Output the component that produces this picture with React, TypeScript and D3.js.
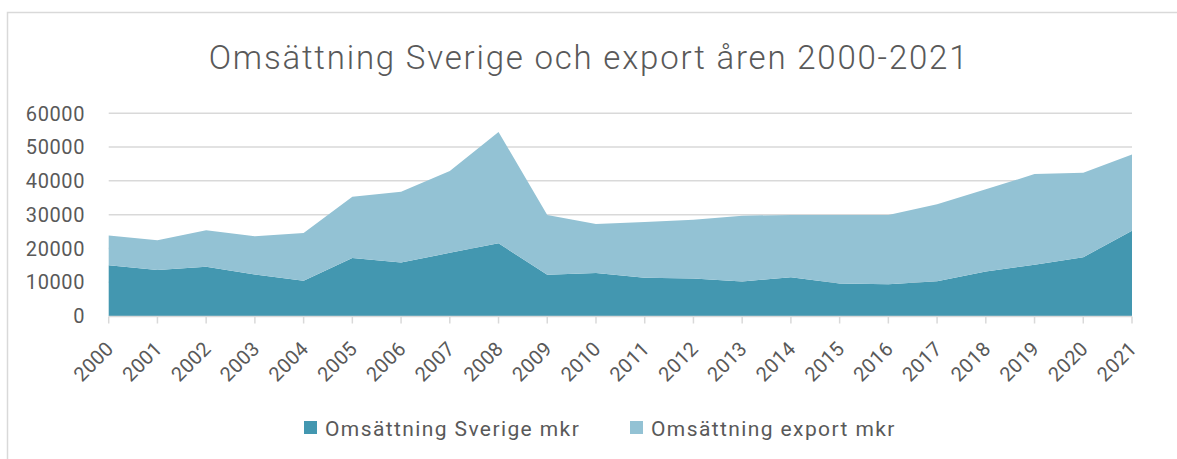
import React from "react";
import * as d3 from "d3";

const years = ["2000","2001","2002","2003","2004","2005","2006","2007","2008","2009","2010","2011","2012","2013","2014","2015","2016","2017","2018","2019","2020","2021"];
const sverige = [15000,13600,14600,12300,10400,17200,15800,18700,21500,12200,12700,11300,11100,10200,11500,9600,9400,10300,13200,15200,17400,25200];
const exportVals = [8800,8800,10800,11300,14200,18100,21000,24200,33000,17700,14500,16500,17400,19500,18400,20300,20500,22800,24300,26800,25000,22600];
const yTicks = [0,10000,20000,30000,40000,50000,60000];
const seriesNames = ["Omsättning Sverige mkr","Omsättning export mkr"];
const colors = ["#4397B0","#93C2D4"];
const title = "Omsättning Sverige och export åren 2000-2021";

const W = 1177, H = 459;
const FONT = "Roboto, 'DejaVu Sans', sans-serif";
const TXT = "#595959";

export default function App() {
  const x = d3.scalePoint<string>().domain(years).range([108.7, 1132]);
  const y = d3.scaleLinear().domain([0, 60000]).range([316, 113.3]);
  const rows = years.map((yr, i) => ({ year: yr, s: sverige[i], e: exportVals[i] }));
  const stack = d3.stack<any>().keys(["s", "e"])(rows);
  const area = d3.area<any>()
    .x((d: any) => x(d.data.year) as number)
    .y0((d: any) => y(d[0]))
    .y1((d: any) => y(d[1]));

  return (
    <svg width={W} height={H} style={{ position: "absolute", left: 0, top: 0 }} fontFamily={FONT}>
      <rect x={0} y={0} width={W} height={H} fill="#fff" />
      <rect x={7.5} y={12.5} width={W + 20} height={H + 20} fill="none" stroke="#D9D9D9" strokeWidth={1.5} />
      <text x={589} y={69} textAnchor="middle" fontSize={33} fontWeight={300} letterSpacing={1.8} fill={TXT}>{title}</text>
      {yTicks.map((t) => (
        <g key={t}>
          {t > 0 && <line x1={108.7} x2={1132} y1={y(t)} y2={y(t)} stroke="#D9D9D9" strokeWidth={1.5} />}
          <text x={85} y={y(t)} dy="0.36em" textAnchor="end" fontSize={20} letterSpacing={0.6} fill={TXT}>{t}</text>
        </g>
      ))}
      {stack.map((s, i) => (
        <path key={i} d={area(s as any) || ""} fill={colors[i]} />
      ))}
      <line x1={108.7} x2={1132} y1={316.5} y2={316.5} stroke="#D9D9D9" strokeWidth={1.5} />
      {years.map((yr) => (
        <g key={yr}>
          <line x1={x(yr)} x2={x(yr)} y1={316.5} y2={323.5} stroke="#D9D9D9" strokeWidth={1.5} />
          <text transform={`translate(${(x(yr) as number) + 6},${350}) rotate(-45)`} textAnchor="end" fontSize={20} letterSpacing={0.3} fill={TXT}>{yr}</text>
        </g>
      ))}
      {seriesNames.map((n, i) => {
        const lx = i === 0 ? 304 : 630;
        return (
          <g key={n}>
            <rect x={lx} y={421} width={13} height={13} fill={colors[i]} />
            <text x={lx + 21} y={436} fontSize={21} letterSpacing={1.4} fill={TXT}>{n}</text>
          </g>
        );
      })}
    </svg>
  );
}
